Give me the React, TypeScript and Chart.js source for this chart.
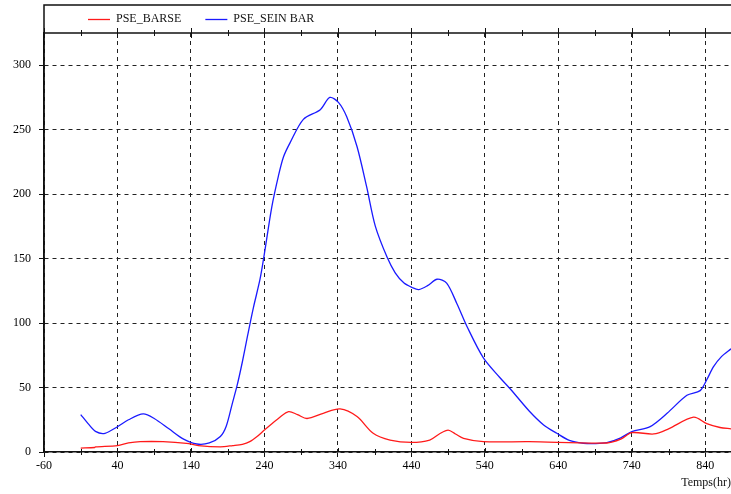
import React, { useEffect, useRef } from "react";
import { Chart, registerables } from "chart.js";

Chart.register(...registerables);

// ---- data (time in hours) ----
const barseTimes = [-10, 9, 10, 40, 55, 71, 102, 134, 150, 180, 197, 210, 220, 230, 240, 261, 273, 285, 298, 320, 343, 366, 388, 411, 440, 465, 478, 490, 500, 511, 538, 600, 706, 725, 740, 770, 790, 824, 842, 860, 875];
const barseValues = [3, 3.5, 4, 5, 7, 8, 8, 6.7, 5, 4, 5, 6, 8, 12, 17, 27, 31.3, 29, 26, 30, 33.4, 27.5, 14.5, 9.3, 7.5, 9.3, 14, 17, 14, 10.6, 8, 8, 7, 10, 15, 14, 18, 27, 22, 19, 18];

const seinTimes = [-10, 0, 10, 23, 40, 55, 75, 90, 110, 130, 148, 165, 180, 188, 196, 203, 210, 217, 225, 234, 240, 250, 259, 266, 275, 293, 316, 329, 341, 352, 366, 379, 391, 407, 418, 430, 441, 450, 462, 475, 488, 502, 516, 538, 560, 575, 600, 620, 638, 655, 674, 690, 706, 725, 740, 765, 788, 815, 833, 842, 851, 862, 875];
const seinValues = [29, 22, 16, 14.5, 19.6, 25, 29.5, 26, 18, 10, 6.2, 7, 12, 20, 37, 52, 70, 90, 112, 134, 154, 190, 214, 229, 240, 258, 265.5, 275, 271, 260, 237, 206, 175, 151, 139, 131, 127.6, 126, 129, 134, 131, 115, 97, 73, 58, 48.7, 32, 21, 14.5, 9, 6.8, 6.5, 7.2, 11, 15.8, 19.7, 30, 44, 47.6, 56, 66, 74, 80];

const seriesNames = ["PSE_BARSE", "PSE_SEIN BAR"];
const seriesColors = ["#ff1a1a", "#1a1aff"];
const xTickValues = [-60, 40, 140, 240, 340, 440, 540, 640, 740, 840];
const xMinorTickValues = [-10, 90, 190, 290, 390, 490, 590, 690, 790];
const yTickValues = [0, 50, 100, 150, 200, 250, 300];
const xTitle = "Temps(hr)";

const FONT = "'Liberation Serif', 'Times New Roman', serif";

const framePlugin = {
  id: "frame",
  afterDraw(chart: any) {
    const { ctx, chartArea: a } = chart;
    const x = chart.scales.x;
    ctx.save();
    ctx.strokeStyle = "#111";
    ctx.lineWidth = 1.5;
    // outer frame (top + left)
    ctx.beginPath();
    ctx.moveTo(a.left, a.bottom);
    ctx.lineTo(a.left, 5);
    ctx.lineTo(chart.width, 5);
    ctx.stroke();
    // top axis line
    ctx.beginPath();
    ctx.moveTo(a.left, a.top);
    ctx.lineTo(a.right, a.top);
    ctx.stroke();

    ctx.lineWidth = 1;
    const drawTick = (v: number, hUp: number, hDown: number, yy: number) => {
      const px = Math.round(x.getPixelForValue(v)) + 0.5;
      ctx.beginPath();
      ctx.moveTo(px, yy - hUp);
      ctx.lineTo(px, yy + hDown);
      ctx.stroke();
    };
    xTickValues.forEach((v) => {
      drawTick(v, 5, 5, a.top);
      drawTick(v, 4, 0, a.bottom);
    });
    xMinorTickValues.forEach((v) => {
      drawTick(v, 3, 3, a.top);
      drawTick(v, 3, 3, a.bottom);
    });

    // legend
    ctx.font = `12px ${FONT}`;
    ctx.textBaseline = "middle";
    ctx.textAlign = "left";
    let lx = 88;
    const ly = 19;
    chart.data.datasets.forEach((ds: any) => {
      ctx.strokeStyle = ds.borderColor;
      ctx.lineWidth = 1.3;
      ctx.beginPath();
      ctx.moveTo(lx, ly + 0.5);
      ctx.lineTo(lx + 22, ly + 0.5);
      ctx.stroke();
      ctx.fillStyle = "#111";
      ctx.fillText(ds.label, lx + 28, ly);
      lx += 28 + ctx.measureText(ds.label).width + 24;
    });

    // axis title
    ctx.textAlign = "right";
    ctx.fillStyle = "#111";
    ctx.fillText(xTitle, chart.width, 483);
    ctx.restore();
  },
};

export default function App() {
  const ref = useRef<HTMLCanvasElement | null>(null);
  useEffect(() => {
    if (!ref.current) return;
    Chart.defaults.font.family = FONT;
    Chart.defaults.font.size = 12;
    Chart.defaults.color = "#000";
    const chart = new Chart(ref.current, {
      type: "line",
      data: {
        datasets: [
          {
            label: seriesNames[0],
            data: barseTimes.map((t, i) => ({ x: t, y: barseValues[i] })),
            borderColor: seriesColors[0],
            borderWidth: 1.3,
            pointRadius: 0,
            tension: 0.3,
            fill: false,
          },
          {
            label: seriesNames[1],
            data: seinTimes.map((t, i) => ({ x: t, y: seinValues[i] })),
            borderColor: seriesColors[1],
            borderWidth: 1.3,
            pointRadius: 0,
            tension: 0.3,
            fill: false,
          },
        ],
      },
      options: {
        animation: false,
        responsive: false,
        events: [],
        layout: { padding: { top: 33, left: 0, right: 0, bottom: 0 } },
        plugins: { legend: { display: false }, tooltip: { enabled: false } },
        scales: {
          x: {
            type: "linear",
            min: -60,
            max: 875,
            afterBuildTicks: (s: any) => {
              s.ticks = xTickValues.map((v) => ({ value: v }));
            },
            afterFit: (s: any) => {
              s.height = 42;
            },
            ticks: { padding: 2, autoSkip: false, maxRotation: 0, font: { size: 12 }, color: "#000" },
            grid: { color: "#222", lineWidth: 1, tickLength: 5, tickColor: "#111", drawTicks: true },
            border: { display: true, color: "#111", width: 1.5, dash: [4, 4] },
          },
          y: {
            type: "linear",
            min: 0,
            max: 325,
            afterBuildTicks: (s: any) => {
              s.ticks = yTickValues.map((v) => ({ value: v }));
            },
            afterFit: (s: any) => {
              s.width = 44;
            },
            ticks: { padding: 8, font: { size: 12 }, color: "#000" },
            grid: { color: "#222", lineWidth: 1, tickLength: 5, tickColor: "#111", drawTicks: true },
            border: { display: true, color: "#111", width: 1.5, dash: [4, 4] },
          },
        },
      },
      plugins: [framePlugin],
    } as any);
    return () => chart.destroy();
  }, []);
  return (
    <div style={{ position: "fixed", left: 0, top: 0, width: 731, height: 494, background: "#fff" }}>
      <canvas ref={ref} width={731} height={494} style={{ display: "block", width: 731, height: 494 }} />
    </div>
  );
}
